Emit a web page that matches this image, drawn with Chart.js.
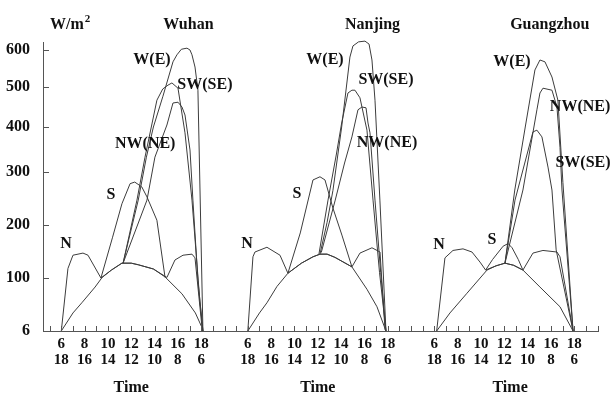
<!DOCTYPE html>
<html><head><meta charset="utf-8">
<script src="https://cdn.jsdelivr.net/npm/chart.js@4.4.1/dist/chart.umd.min.js"></script>
<style>html,body{margin:0;padding:0;background:#fff;}canvas{display:block;}</style>
</head><body>
<canvas id="c" width="613" height="396"></canvas>
<script>
// ---------- DATA (hour of day, W/m2) ----------
const cities = ['Wuhan', 'Nanjing', 'Guangzhou'];
const yTickValues = [6, 100, 200, 300, 400, 500, 600];
const hourLabelsTop = [6, 8, 10, 12, 14, 16, 18];
const hourLabelsBottom = [18, 16, 14, 12, 10, 8, 6];

// Wuhan
const wuhanDome = [[6,6],[7,38],[7.8,57],[8.9,84],[9.5,101],[10.3,115],[11.2,128],[12.0,128],[12.6,125],[13.9,117],[14.9,102],[16.35,72],[17.5,38],[18.05,13],[18.15,6]];
const wuhanN = [[6,6],[6.57,118],[7.0,143],[7.86,147],[8.29,143],[9.4,100],[10.3,115],[11.2,128],[12.0,128],[12.6,125],[13.9,117],[15.06,101],[15.75,134],[16.44,143],[17.21,145],[17.47,138],[18.1,6]];
const wuhanS = [[9.4,100],[10.4,177],[11.2,240],[11.9,278],[12.3,281],[12.9,272],[13.35,253],[14.2,209],[14.9,101]];
const wuhanW = [[11.3,128],[12.6,247],[13.3,333],[13.9,400],[14.72,477],[15.58,568],[15.92,587],[16.3,602],[16.78,605],[17.04,600],[17.21,587],[17.47,554],[17.72,492],[18.15,6]];
const wuhanSW = [[11.3,128],[12.49,247],[13.18,333],[14.2,467],[14.7,495],[15.15,505],[15.49,511],[16.01,497],[16.61,387],[17.21,247],[17.89,58],[18.15,6]];
const wuhanNW = [[11.3,128],[13.35,247],[14.03,333],[15.06,405],[15.58,460],[16.01,462],[16.35,450],[16.61,430],[17.04,349],[17.29,247],[17.72,96],[18.15,6]];

// Nanjing
const nanjingDome = [[6.0,6],[7.0,38],[7.64,56],[8.5,85],[9.44,109],[10.6,128],[11.59,140],[12.19,145],[12.8,145],[13.47,139],[14.93,121],[16.22,80],[17.08,49],[17.85,6]];
const nanjingN = [[6.0,6],[6.44,140],[6.61,149],[7.64,158],[8.76,143],[9.44,109],[10.6,128],[11.59,140],[12.19,145],[12.8,145],[13.47,139],[14.93,121],[15.62,147],[16.65,157],[17.34,149],[17.77,8]];
const nanjingS = [[9.44,109],[10.5,185],[11.59,285],[12.19,291],[12.62,285],[13.3,232],[14.07,181],[14.93,121]];
const nanjingW = [[12.19,145],[12.8,205],[13.3,265],[14.05,400],[14.76,581],[15.02,611],[15.5,622],[16.05,624],[16.4,616],[16.65,573],[16.91,467],[17.33,247],[17.85,6]];
const nanjingSW = [[12.1,145],[12.88,247],[13.6,340],[14.05,410],[14.59,485],[14.93,492],[15.19,492],[15.62,473],[16.22,393],[16.74,247],[17.3,110],[17.85,6]];
const nanjingNW = [[12.3,148],[13.5,247],[14.3,320],[14.93,378],[15.45,443],[15.79,450],[16.14,448],[16.31,410],[16.48,387],[16.91,247],[17.4,110],[17.85,6]];

// Guangzhou
const guangzhouDome = [[6.2,6],[7.34,38],[8.8,73],[10.52,115],[11.3,123],[12.06,128],[12.8,124],[13.6,115],[15.06,84],[16.78,49],[17.9,6]];
const guangzhouN = [[6.2,6],[6.91,138],[7.6,152],[8.46,155],[9.23,149],[9.92,130],[10.4,115],[11.3,123],[12.06,128],[12.8,124],[13.6,115],[14.46,147],[15.32,152],[16.52,149],[16.78,140],[17.9,6]];
const guangzhouS = [[10.4,115],[11.0,135],[11.9,160],[12.33,165],[12.67,157],[13.2,135],[13.6,115]];
const guangzhouW = [[12.06,128],[12.9,266],[13.8,400],[14.63,546],[15.06,573],[15.49,568],[16.09,527],[16.6,467],[17.03,280],[17.9,6]];
const guangzhouSW = [[12.06,128],[12.92,247],[14.46,389],[14.8,393],[15.23,378],[15.75,311],[16.09,266],[16.45,153],[17.9,6]];
const guangzhouNW = [[12.06,128],[13.6,266],[14.8,443],[15.06,485],[15.32,497],[16.09,492],[16.52,450],[16.78,355],[16.95,266],[17.9,6]];

const seriesNames = ['Diffuse', 'N', 'S', 'W(E)', 'SW(SE)', 'NW(NE)'];
const citySeries = [
  [wuhanDome, wuhanN, wuhanS, wuhanW, wuhanSW, wuhanNW],
  [nanjingDome, nanjingN, nanjingS, nanjingW, nanjingSW, nanjingNW],
  [guangzhouDome, guangzhouN, guangzhouS, guangzhouW, guangzhouSW, guangzhouNW]
];

// ---------- LAYOUT / STYLE ----------
const panelOffset = [0, 16, 32];           // hours shift of each panel on the shared axis
const Y_GAPS = [53, 53, 53, 45, 40, 37, 7.4]; // relative spacing between y breaks
const Y_BREAKS = yTickValues.concat([620]);
const FONT = '"Liberation Serif","Times New Roman",serif';
const LINE = '#3c3c3c';

// curve label anchors [city, text, hour, value]
const curveLabels = [
  [0,'N',6.40,164],[0,'S',10.26,257],[0,'W(E)',13.78,573],[0,'SW(SE)',18.32,505],[0,'NW(NE)',13.2,362],
  [1,'N',5.93,164],[1,'S',10.22,258],[1,'W(E)',12.62,573],[1,'SW(SE)',17.85,519],[1,'NW(NE)',17.94,364],
  [2,'N',6.40,162],[2,'S',10.94,172],[2,'W(E)',12.66,568],[2,'NW(NE)',18.5,450],[2,'SW(SE)',18.75,320]
];
const titleHour = [16.9, 16.7, 15.9];
const timeHour = [12, 12, 12.5];

// ---------- piecewise y scale ----------
class PiecewiseScale extends Chart.LinearScale {
  static id = 'piecewise';
  static defaults = Chart.LinearScale.defaults;
  _frac(v) {
    const tot = Y_GAPS.reduce((a, b) => a + b, 0);
    let acc = 0;
    const n = Y_BREAKS.length - 1;
    for (let i = 0; i < n; i++) {
      const a = Y_BREAKS[i], b = Y_BREAKS[i + 1];
      if (v <= b || i === n - 1) {
        return (acc + (v - a) / (b - a) * Y_GAPS[i]) / tot;
      }
      acc += Y_GAPS[i];
    }
    return 1;
  }
  getPixelForValue(v) {
    if (v === null || v === undefined || isNaN(v)) return NaN;
    return this.bottom - this._frac(v) * (this.bottom - this.top);
  }
  getValueForPixel(p) {
    const tot = Y_GAPS.reduce((a, b) => a + b, 0);
    const f = (this.bottom - p) / (this.bottom - this.top) * tot;
    let acc = 0;
    for (let i = 0; i < Y_GAPS.length; i++) {
      if (f <= acc + Y_GAPS[i] || i === Y_GAPS.length - 1) {
        return Y_BREAKS[i] + (f - acc) / Y_GAPS[i] * (Y_BREAKS[i + 1] - Y_BREAKS[i]);
      }
      acc += Y_GAPS[i];
    }
  }
}
Chart.register(PiecewiseScale);

// ---------- datasets ----------
const datasets = [];
citySeries.forEach((list, ci) => {
  list.forEach((pts, si) => {
    datasets.push({
      label: cities[ci] + ' ' + seriesNames[si],
      data: pts.map(([h, v]) => ({ x: h + panelOffset[ci], y: v })),
      borderColor: LINE, borderWidth: 1, pointRadius: 0, tension: 0, fill: false, clip: false
    });
  });
});

function hourLabel(v) {
  for (let ci = 0; ci < 3; ci++) {
    const t = v - panelOffset[ci];
    const k = hourLabelsTop.indexOf(t);
    if (k >= 0) return [String(hourLabelsTop[k]), String(hourLabelsBottom[k])];
  }
  return '';
}

const textPlugin = {
  id: 'textPlugin',
  afterDraw(chart) {
    const ctx = chart.ctx, xs = chart.scales.x, ys = chart.scales.y;
    ctx.save();
    // inward tick marks
    ctx.strokeStyle = '#555'; ctx.lineWidth = 1;
    ctx.beginPath();
    xs.ticks.forEach(t => {
      const px = Math.round(xs.getPixelForValue(t.value)) + 0.5;
      ctx.moveTo(px, ys.bottom); ctx.lineTo(px, ys.bottom - 5);
    });
    ys.ticks.forEach(t => {
      const py = Math.round(ys.getPixelForValue(t.value)) + 0.5;
      ctx.moveTo(xs.left, py); ctx.lineTo(xs.left + 6, py);
    });
    ctx.stroke();
    ctx.fillStyle = '#111';
    ctx.textAlign = 'center'; ctx.textBaseline = 'middle';
    ctx.font = 'bold 16px ' + FONT;
    curveLabels.forEach(([ci, txt, h, v]) => {
      ctx.fillText(txt, xs.getPixelForValue(h + panelOffset[ci]), ys.getPixelForValue(v));
    });
    cities.forEach((c, ci) => {
      ctx.fillText(c, xs.getPixelForValue(titleHour[ci] + panelOffset[ci]), ys.top - 18);
      ctx.fillText('Time', xs.getPixelForValue(timeHour[ci] + panelOffset[ci]), 388);
    });
    ctx.textAlign = 'left';
    ctx.textBaseline = 'alphabetic';
    ctx.fillText('W/m', xs.left + 7, 29);
    const w = ctx.measureText('W/m').width;
    ctx.font = 'bold 11px ' + FONT;
    ctx.fillText('2', xs.left + 7 + w + 1, 22);
    ctx.restore();
  }
};

new Chart(document.getElementById('c'), {
  type: 'line',
  data: { datasets },
  plugins: [textPlugin],
  options: {
    responsive: false, animation: false, devicePixelRatio: 1,
    layout: { padding: { left: 0, right: 15, top: 42.6, bottom: 0 } },
    plugins: { legend: { display: false }, tooltip: { enabled: false } },
    scales: {
      x: {
        type: 'linear', min: 4.43, max: 52.04,
        afterBuildTicks: s => {
          const t = [];
          for (let h = 5; h <= 52; h++) t.push({ value: h });
          s.ticks = t;
        },
        afterFit: s => { s.height = 65; },
        grid: { display: false },
        border: { display: true, color: '#555', width: 1 },
        ticks: {
          autoSkip: false, maxRotation: 0, padding: -3, color: '#111',
          font: { family: FONT, size: 15, weight: 'bold', lineHeight: 1.07 },
          callback: v => hourLabel(v)
        }
      },
      y: {
        type: 'piecewise', min: 6, max: 620,
        afterBuildTicks: s => { s.ticks = yTickValues.map(v => ({ value: v })); },
        afterFit: s => { s.width = 43; },
        grid: { display: false },
        border: { display: true, color: '#555', width: 1 },
        ticks: {
          autoSkip: false, padding: 5, color: '#111',
          font: { family: FONT, size: 16, weight: 'bold' },
          callback: v => String(v)
        }
      }
    }
  }
});
</script>
</body></html>
